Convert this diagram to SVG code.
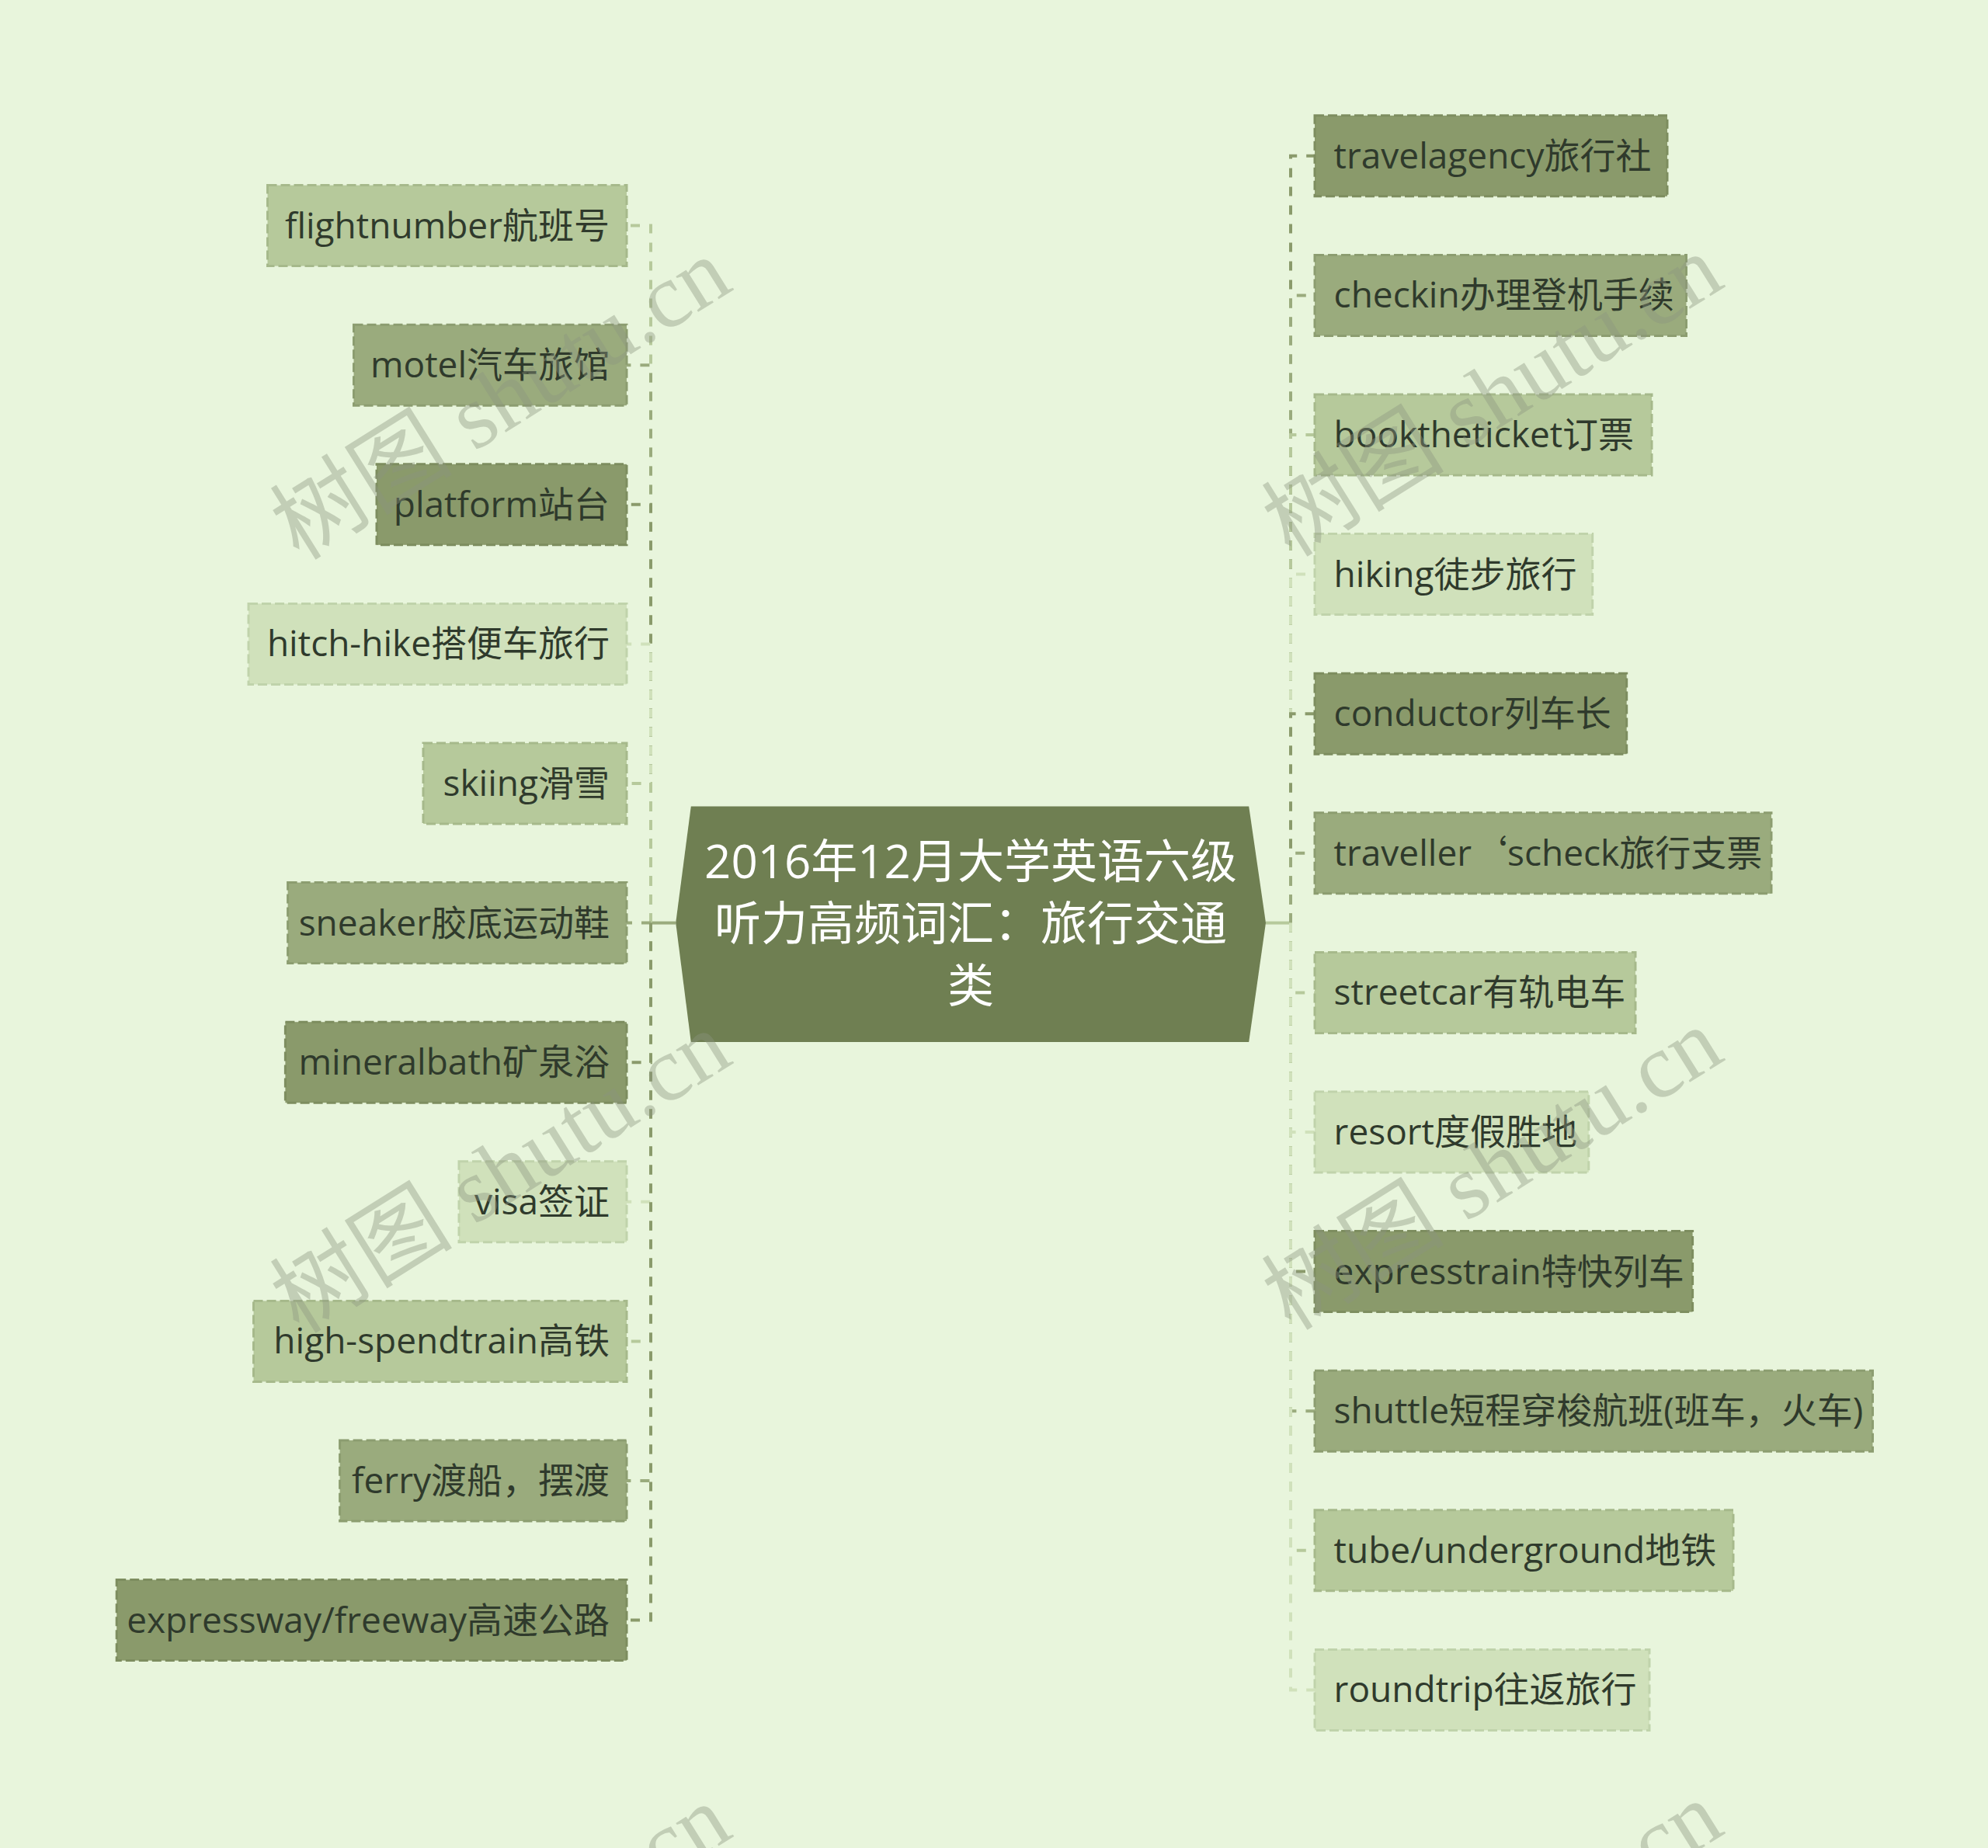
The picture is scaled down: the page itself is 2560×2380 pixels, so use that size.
<svg xmlns="http://www.w3.org/2000/svg" width="2560" height="2380" viewBox="0 0 2560 2380">
<style>
.t{font-family:"Open Sans","Noto Sans CJK SC",sans-serif;font-size:46px;fill:#2f3a2c}
.tl{text-anchor:end}
.q{font-family:"Noto Sans CJK SC",sans-serif}
.c{font-family:"Open Sans","Noto Sans CJK SC",sans-serif;font-size:60px;fill:#ffffff;text-anchor:middle}
.D{fill:#8a9a6b;stroke:#7d8d5f}
.M{fill:#9aab7d;stroke:#8c9d70}
.L{fill:#b6c99b;stroke:#a6b98b}
.X{fill:#d0e1bb;stroke:#c0d3ab}
rect{stroke-width:3;stroke-dasharray:12 5}
.k{fill:none;stroke-width:4;stroke-dasharray:12 12}
.kD{stroke:#8a9a6b}.kM{stroke:#9aab7d}.kL{stroke:#b6c99b}.kX{stroke:#d0e1bb}
.wm{font-family:"Liberation Serif","Noto Sans CJK SC",serif;font-size:118px;fill:#8c9580;opacity:0.4;text-anchor:middle;dominant-baseline:central}
</style>
<rect x="0" y="0" width="2560" height="2380" fill="#e8f5dc" style="stroke:none"/>
<g id="connectors">
<line x1="870" y1="1188.6" x2="838" y2="1188.6" stroke="#9aab7d" stroke-width="4"/>
<line x1="1630" y1="1188.6" x2="1662" y2="1188.6" stroke="#b6c99b" stroke-width="4"/>
<path class="k kL" d="M838 1188.6V290.6H807"/>
<path class="k kM" d="M838 1188.6V470.2H807"/>
<path class="k kD" d="M838 1188.6V649.8H807"/>
<path class="k kX" d="M838 1188.6V829.4H807"/>
<path class="k kL" d="M838 1188.6V1009H807"/>
<path class="k kM" d="M838 1188.6V1188.6H807"/>
<path class="k kD" d="M838 1188.6V1368.2H807"/>
<path class="k kX" d="M838 1188.6V1547.8H807"/>
<path class="k kL" d="M838 1188.6V1727.4H807"/>
<path class="k kM" d="M838 1188.6V1907H807"/>
<path class="k kD" d="M838 1188.6V2086.6H807"/>
<path class="k kD" d="M1662 1188.6V200.8H1693"/>
<path class="k kM" d="M1662 1188.6V380.4H1693"/>
<path class="k kL" d="M1662 1188.6V560H1693"/>
<path class="k kX" d="M1662 1188.6V739.6H1693"/>
<path class="k kD" d="M1662 1188.6V919.2H1693"/>
<path class="k kM" d="M1662 1188.6V1098.8H1693"/>
<path class="k kL" d="M1662 1188.6V1278.4H1693"/>
<path class="k kX" d="M1662 1188.6V1458H1693"/>
<path class="k kD" d="M1662 1188.6V1637.6H1693"/>
<path class="k kM" d="M1662 1188.6V1817.2H1693"/>
<path class="k kL" d="M1662 1188.6V1996.8H1693"/>
<path class="k kX" d="M1662 1188.6V2176.4H1693"/>
</g>
<g id="center">
<polygon points="889.8,1038.4 1608.2,1038.4 1630,1188.6 1608.2,1342 889.8,1342 870.2,1188.6" fill="#6f7f52"/>
<text class="c" x="1250" y="1131">2016年12月大学英语六级</text>
<text class="c" x="1250" y="1211">听力高频词汇：旅行交通</text>
<text class="c" x="1250" y="1291">类</text>
</g>
<g id="n-l1"><rect class="L" x="344.5" y="238.6" width="462.5" height="104"/><text class="t tl" x="785" y="306.6">flightnumber航班号</text></g>
<g id="n-l2"><rect class="M" x="455.5" y="418.2" width="351.5" height="104"/><text class="t tl" x="785" y="486.2">motel汽车旅馆</text></g>
<g id="n-l3"><rect class="D" x="485" y="597.8" width="322" height="104"/><text class="t tl" x="785" y="665.8">platform站台</text></g>
<g id="n-l4"><rect class="X" x="320" y="777.4" width="487" height="104"/><text class="t tl" x="785" y="845.4">hitch-hike搭便车旅行</text></g>
<g id="n-l5"><rect class="L" x="545" y="957" width="262" height="104"/><text class="t tl" x="785" y="1025">skiing滑雪</text></g>
<g id="n-l6"><rect class="M" x="370.6" y="1136.6" width="436.4" height="104"/><text class="t tl" x="785" y="1204.6">sneaker胶底运动鞋</text></g>
<g id="n-l7"><rect class="D" x="367.4" y="1316.2" width="439.6" height="104"/><text class="t tl" x="785" y="1384.2">mineralbath矿泉浴</text></g>
<g id="n-l8"><rect class="X" x="591" y="1495.8" width="216" height="104"/><text class="t tl" x="785" y="1563.8">visa签证</text></g>
<g id="n-l9"><rect class="L" x="326.5" y="1675.4" width="480.5" height="104"/><text class="t tl" x="785" y="1743.4">high-spendtrain高铁</text></g>
<g id="n-l10"><rect class="M" x="437.6" y="1855" width="369.4" height="104"/><text class="t tl" x="785" y="1923">ferry渡船，摆渡</text></g>
<g id="n-l11"><rect class="D" x="150.2" y="2034.6" width="656.8" height="104"/><text class="t tl" x="785" y="2102.6">expressway/freeway高速公路</text></g>
<g id="n-r1"><rect class="D" x="1693" y="148.8" width="454" height="104"/><text class="t" x="1717.6" y="216.8">travelagency旅行社</text></g>
<g id="n-r2"><rect class="M" x="1693" y="328.4" width="478.5" height="104"/><text class="t" x="1717.6" y="396.4">checkin办理登机手续</text></g>
<g id="n-r3"><rect class="L" x="1693" y="508" width="434" height="104"/><text class="t" x="1717.6" y="576">booktheticket订票</text></g>
<g id="n-r4"><rect class="X" x="1693" y="687.6" width="357.7" height="104"/><text class="t" x="1717.6" y="755.6">hiking徒步旅行</text></g>
<g id="n-r5"><rect class="D" x="1693" y="867.2" width="401.7" height="104"/><text class="t" x="1717.6" y="935.2">conductor列车长</text></g>
<g id="n-r6"><rect class="M" x="1693" y="1046.8" width="588" height="104"/><text class="t" x="1717.6" y="1114.8">traveller<tspan class="q">‘</tspan>scheck旅行支票</text></g>
<g id="n-r7"><rect class="L" x="1693" y="1226.4" width="413" height="104"/><text class="t" x="1717.6" y="1294.4">streetcar有轨电车</text></g>
<g id="n-r8"><rect class="X" x="1693" y="1406" width="352.8" height="104"/><text class="t" x="1717.6" y="1474">resort度假胜地</text></g>
<g id="n-r9"><rect class="D" x="1693" y="1585.6" width="486.6" height="104"/><text class="t" x="1717.6" y="1653.6">expresstrain特快列车</text></g>
<g id="n-r10"><rect class="M" x="1693" y="1765.2" width="718.5" height="104"/><text class="t" x="1717.6" y="1833.2">shuttle短程穿梭航班(班车，火车)</text></g>
<g id="n-r11"><rect class="L" x="1693" y="1944.8" width="539" height="104"/><text class="t" x="1717.6" y="2012.8">tube/underground地铁</text></g>
<g id="n-r12"><rect class="X" x="1693" y="2124.4" width="431" height="104"/><text class="t" x="1717.6" y="2192.4">roundtrip往返旅行</text></g>
<g id="watermark">
<text class="wm" transform="translate(645,514) rotate(-32)">树图 shutu.cn</text>
<text class="wm" transform="translate(645,1510) rotate(-32)">树图 shutu.cn</text>
<text class="wm" transform="translate(645,2506) rotate(-32)">树图 shutu.cn</text>
<text class="wm" transform="translate(1922,510) rotate(-32)">树图 shutu.cn</text>
<text class="wm" transform="translate(1922,1506) rotate(-32)">树图 shutu.cn</text>
<text class="wm" transform="translate(1922,2502) rotate(-32)">树图 shutu.cn</text>
</g>
</svg>
